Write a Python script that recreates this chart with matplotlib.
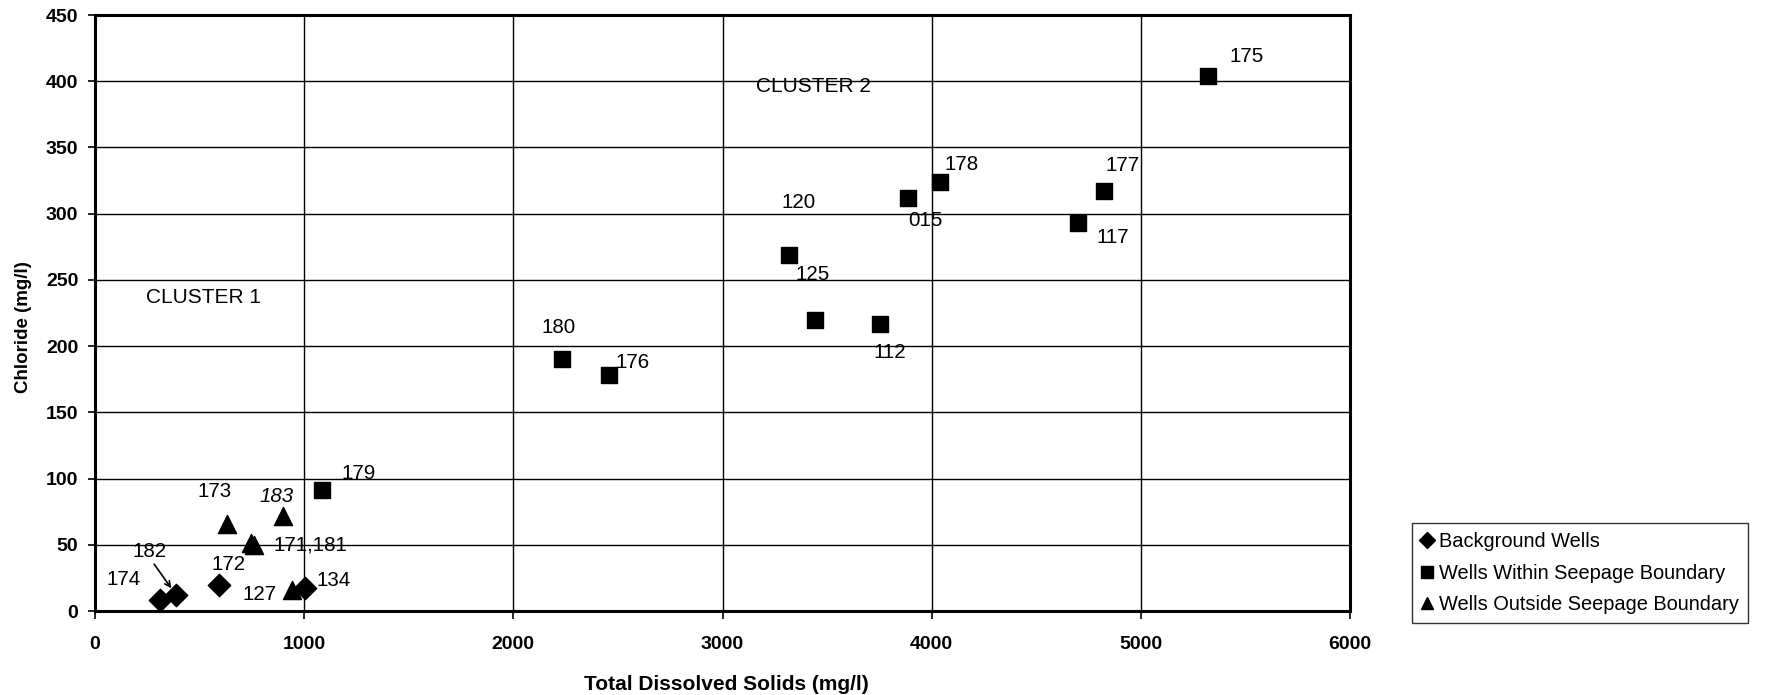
import matplotlib.pyplot as plt
from matplotlib.lines import Line2D

plt.rcParams['font.family'] = ['Liberation Sans', 'DejaVu Sans']

# background wells
bg_wells = ['174', '182', '172', '134']
bg_tds = [313, 388, 591, 1006]
bg_cl = [8, 12, 20, 17]

# wells within seepage boundary
in_wells = ['179', '180', '176', '120', '125', '112', '015', '178', '117', '177', '175']
in_tds = [1083, 2232, 2459, 3317, 3440, 3754, 3889, 4040, 4700, 4824, 5319]
in_cl = [91, 190, 178, 269, 220, 217, 312, 324, 293, 317, 404]

# wells outside seepage boundary
out_wells = ['173', '183', '171', '181', '127']
out_tds = [631, 898, 745, 760, 940]
out_cl = [66, 72, 51, 50, 16]

x_ticks = [0, 1000, 2000, 3000, 4000, 5000, 6000]
y_ticks = [0, 50, 100, 150, 200, 250, 300, 350, 400, 450]

# label offsets in pixels (dx, dy)
bg_off = {'174': (-37, 21), '182': (-27, 44), '172': (10, 20), '134': (28, 8)}
in_off = {'179': (37, 17), '180': (-3, 32), '176': (23, 13), '120': (10, 52),
          '125': (-2, 45), '112': (10, -29), '015': (17, -23), '178': (22, 17),
          '117': (35, -15), '177': (19, 26), '175': (39, 19)}
out_off = {'173': (-12, 32), '183': (-6, 19), '171': (60, -2), '181': None,
           '127': (-32, -5)}

fig = plt.figure(figsize=(17.7, 6.95), dpi=100)
ax = fig.add_axes([95 / 1770, 1 - 611 / 695, 1255 / 1770, 596 / 695])

ax.scatter(bg_tds, bg_cl, marker='D', s=130, color='black', zorder=3)
ax.scatter(in_tds, in_cl, marker='s', s=130, color='black', zorder=3)
ax.scatter(out_tds, out_cl, marker='^', s=170, color='black', zorder=3)


def label_points(names, xs, ys, offsets):
    for name, x, y in zip(names, xs, ys):
        off = offsets.get(name)
        if off is None:
            continue
        text = name
        style = 'normal'
        if name == '171':
            text = '171,181'
        if name == '183':
            style = 'italic'
        ax.annotate(text, (x, y), xytext=off, textcoords='offset pixels',
                    ha='center', va='center', fontsize=14.8, style=style, zorder=4)


label_points(bg_wells, bg_tds, bg_cl, bg_off)
label_points(in_wells, in_tds, in_cl, in_off)
label_points(out_wells, out_tds, out_cl, out_off)

# arrow for 182
ax.annotate('', xy=(bg_tds[1], bg_cl[1]), xytext=(-22, 31), textcoords='offset pixels',
            arrowprops=dict(arrowstyle='->', color='black', lw=1.2,
                            shrinkA=0, shrinkB=6))

ax.text(521, 237, 'CLUSTER 1', fontsize=15, ha='center', va='center')
ax.text(3437, 396, 'CLUSTER 2', fontsize=15, ha='center', va='center')

ax.set_xlim(0, 6000)
ax.set_ylim(0, 450)
ax.set_xticks(x_ticks)
ax.set_yticks(y_ticks)
ax.grid(True, color='black', linewidth=1.0)
ax.set_axisbelow(True)
for sp in ax.spines.values():
    sp.set_linewidth(2.2)

ax.tick_params(axis='x', direction='out', length=6, width=1.2, pad=12, labelsize=14)
ax.tick_params(axis='y', direction='out', length=5, width=1.2, pad=7, labelsize=14)
for lbl in ax.get_xticklabels() + ax.get_yticklabels():
    lbl.set_fontweight('bold')

ax.set_xlabel('Total Dissolved Solids (mg/l)', fontsize=15, fontweight='bold')
ax.set_ylabel('Chloride (mg/l)', fontsize=13.5, fontweight='bold')
ax.xaxis.set_label_coords(0.503, -0.107)
ax.yaxis.set_label_coords(-0.05, 0.476)

handles = [
    Line2D([], [], marker='D', linestyle='none', color='black', markersize=8),
    Line2D([], [], marker='s', linestyle='none', color='black', markersize=9),
    Line2D([], [], marker='^', linestyle='none', color='black', markersize=9),
]
leg = fig.legend(handles, ['Background Wells', 'Wells Within Seepage Boundary',
                           'Wells Outside Seepage Boundary'],
                 loc='lower left', bbox_to_anchor=(1412 / 1770, 1 - 623 / 695),
                 fontsize=14.4, frameon=True, fancybox=False, handlelength=0.6,
                 handletextpad=0.3, borderpad=0.45, labelspacing=0.62,
                 borderaxespad=0)
leg.get_frame().set_edgecolor('black')
leg.get_frame().set_linewidth(1.0)

fig.savefig('out.png', dpi=100)
